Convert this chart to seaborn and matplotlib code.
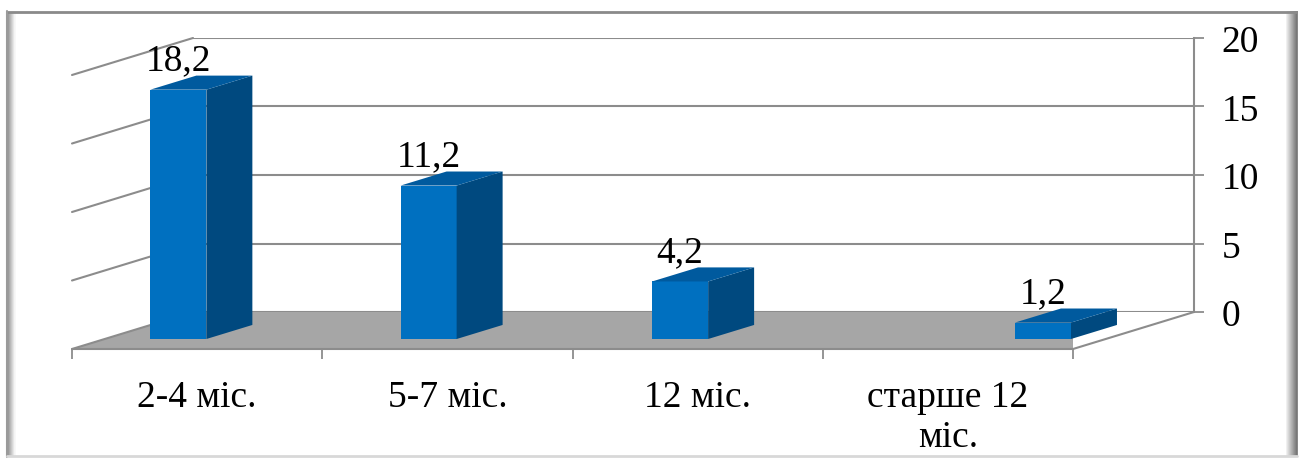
import matplotlib
matplotlib.use("Agg")
import matplotlib.pyplot as plt
from matplotlib import font_manager
from matplotlib.patches import Polygon
import numpy as np
import pandas as pd
import seaborn as sns

# ---- data -------------------------------------------------------------
categories = ["2-4 міс.", "5-7 міс.", "12 міс.", "старше 12\nміс."]
values = [18.2, 11.2, 4.2, 1.2]
value_labels = ["18,2", "11,2", "4,2", "1,2"]
value_ticks = [0, 5, 10, 15, 20]

# ---- scene layout (pixels of a 1304x460 canvas) -----------------------
W, H = 1304, 460
FRONT_LEFT, FRONT_RIGHT = 72, 1073      # front edge of the floor
FRONT_BASE, FRONT_TOP = 350, 76         # value 0 / value 20 on the front plane
DEPTH_PX = (121, 37)                    # shift from front plane to back wall
BAR_FRONT = 0.27                        # depth fraction of the bar front faces
BAR_THICK = 0.38                        # bar thickness as depth fraction
BAR_WIDTH = 0.224
bar_nudge = [-0.075, -0.075, -0.07, 0.38]

FRONT_C, TOP_C, SIDE_C = "#0070C0", "#005A9E", "#00497F"
FLOOR_C, GRID_C = "#A6A6A6", "#8C8C8C"
FONT_PT = 27

sns.set_theme(style="white")

# a Times-like serif face
installed = {f.name for f in font_manager.fontManager.ttflist}
serif_pick = next((n for n in ["Liberation Serif", "Tinos", "Times New Roman",
                               "Nimbus Roman", "FreeSerif", "Noto Serif",
                               "DejaVu Serif"] if n in installed), "serif")
plt.rcParams["font.family"] = [serif_pick, "DejaVu Serif"]

fig = plt.figure(figsize=(W / 100, H / 100), dpi=100)
fig.patch.set_facecolor("white")


def frac_box(left, base, right, top):
    return [left / W, (H - base) / H, (right - left) / W, (base - top) / H]


# chart frame with soft shadow
bg = fig.add_axes([0, 0, 1, 1], zorder=-5)
bg.set_xlim(0, W)
bg.set_ylim(H, 0)
bg.axis("off")
for i, g in enumerate(np.linspace(0.55, 0.97, 8)):
    bg.plot([8 + i, 8 + i], [13, 457], color=str(g), lw=1.2, solid_capstyle="butt")
for i, g in enumerate(np.linspace(0.93, 0.45, 11)):
    bg.plot([1287 + i, 1287 + i], [12, 458], color=str(g), lw=1.2, solid_capstyle="butt")
bg.plot([7, 1296], [12.5, 12.5], color="#8A8A8A", lw=2)
bg.plot([7, 7], [12, 458], color="#9A9A9A", lw=1.5)
bg.plot([7, 1297], [457, 457], color="#D8D8D8", lw=2)

# back wall: value axis, gridlines and labels on the right
back = fig.add_axes(frac_box(FRONT_LEFT + DEPTH_PX[0], FRONT_BASE - DEPTH_PX[1],
                             FRONT_RIGHT + DEPTH_PX[0], FRONT_TOP - DEPTH_PX[1]),
                    zorder=0)
back.set_facecolor("none")
back.set_xlim(0, 1)
back.set_ylim(value_ticks[0], value_ticks[-1])
back.set_yticks(value_ticks)
back.set_xticks([])
back.yaxis.tick_right()
back.tick_params(axis="y", direction="out", length=7, width=1.3, color=GRID_C,
                 pad=13, labelsize=FONT_PT, labelcolor="black")
for lbl in back.get_yticklabels():
    lbl.set_horizontalalignment("left")
back.grid(axis="y", color=GRID_C, lw=1.5)
for side in ("left", "top", "bottom"):
    back.spines[side].set_visible(False)
back.spines["right"].set_color(GRID_C)
back.spines["right"].set_linewidth(1.5)

# front plane: categories and bars
ax = fig.add_axes(frac_box(FRONT_LEFT, FRONT_BASE, FRONT_RIGHT, FRONT_TOP), zorder=1)
df = pd.DataFrame({"period": categories, "share": values})
sns.barplot(data=df, x="period", y="share", order=categories, color=FRONT_C,
            saturation=1, width=BAR_WIDTH, linewidth=0, ax=ax, zorder=3)
ax.set_xlim(-0.5, len(categories) - 0.5)
ax.set_ylim(value_ticks[0], value_ticks[-1])
ax.set_facecolor("none")
for side in ax.spines.values():
    side.set_visible(False)
ax.set_xlabel("")
ax.set_ylabel("")
ax.set_yticks([])

# pixel -> data conversions on the front plane
px_x = (len(categories)) / (FRONT_RIGHT - FRONT_LEFT)
px_v = (value_ticks[-1] - value_ticks[0]) / (FRONT_BASE - FRONT_TOP)
ddx, ddv = DEPTH_PX[0] * px_x, DEPTH_PX[1] * px_v
x0, x1 = -0.5, len(categories) - 0.5

# floor
ax.add_patch(Polygon([(x0, 0), (x1, 0), (x1 + ddx, ddv), (x0 + ddx, ddv)],
                     closed=True, facecolor=FLOOR_C, edgecolor="none", zorder=1))
ax.plot([x0, x1, x1 + ddx], [0, 0, ddv], color=GRID_C, lw=1.5, zorder=2,
        clip_on=False, solid_joinstyle="miter")

# left wall lines
for v in value_ticks:
    ax.plot([x0, x0 + ddx], [v, v + ddv], color=GRID_C, lw=1.5, zorder=2, clip_on=False)

# category axis ticks and labels
ax.set_xticks(np.arange(len(categories)))
ax.set_xticklabels(categories)
ax.set_xticks(np.arange(len(categories) + 1) - 0.5, minor=True)
ax.tick_params(axis="x", which="major", length=0, pad=22, labelsize=FONT_PT,
               labelcolor="black")
ax.tick_params(axis="x", which="minor", length=7.5, width=1.3, color=GRID_C,
               direction="out", bottom=True)

# give the bars depth
fdx, fdv = ddx * BAR_FRONT, ddv * BAR_FRONT
tdx, tdv = ddx * BAR_THICK, ddv * BAR_THICK
for patch, val, txt, nudge in zip(ax.patches, values, value_labels, bar_nudge):
    patch.set_x(patch.get_x() + nudge)
    patch.set_y(fdv)
    bx0 = patch.get_x()
    bx1 = bx0 + patch.get_width()
    yb, yt = fdv, fdv + patch.get_height()
    ax.add_patch(Polygon([(bx1, yb), (bx1 + tdx, yb + tdv), (bx1 + tdx, yt + tdv), (bx1, yt)],
                         closed=True, facecolor=SIDE_C, edgecolor="none", zorder=3,
                         clip_on=False))
    ax.add_patch(Polygon([(bx0, yt), (bx1, yt), (bx1 + tdx, yt + tdv), (bx0 + tdx, yt + tdv)],
                         closed=True, facecolor=TOP_C, edgecolor="none", zorder=3,
                         clip_on=False))
    ax.annotate(txt, xy=((bx0 + bx1) / 2, yt + tdv), xytext=(0, 4.5),
                textcoords="offset points", ha="center", va="baseline",
                fontsize=FONT_PT, color="black", zorder=5, annotation_clip=False)

fig.savefig("out.png", dpi=100, facecolor="white")
